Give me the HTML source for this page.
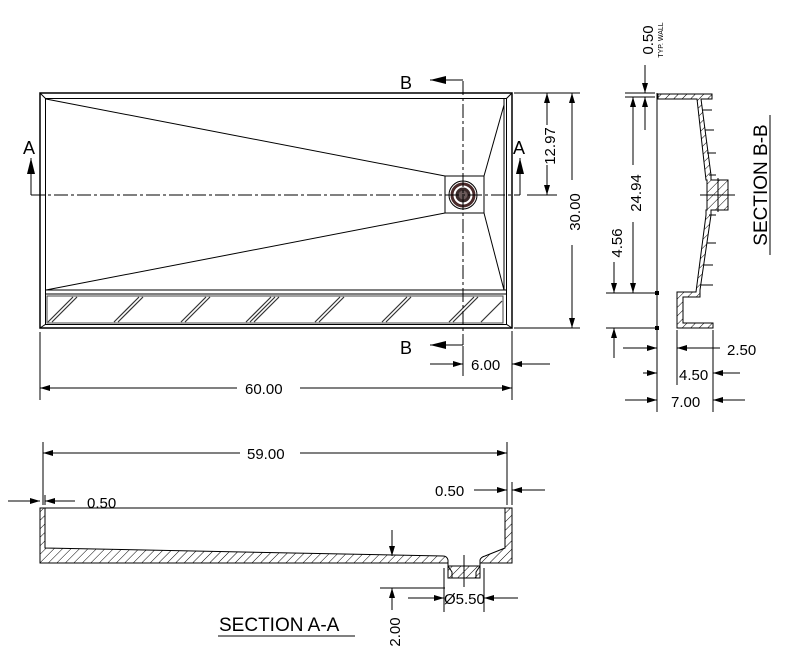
<!DOCTYPE html>
<html><head><meta charset="utf-8"><style>
html,body{margin:0;padding:0;background:#fff}
svg{display:block}
text{font-family:"Liberation Sans",Arial,sans-serif;fill:#000}
</style></head><body>
<svg width="787" height="672" viewBox="0 0 787 672" xmlns="http://www.w3.org/2000/svg">
<defs>
<marker id="ar" viewBox="0 0 10 6" refX="10" refY="3" markerWidth="12" markerHeight="6" markerUnits="userSpaceOnUse" orient="auto"><path d="M0,0L10,3L0,6z" fill="#000"/></marker>
<marker id="arb" viewBox="0 0 16 8" refX="16" refY="4" markerWidth="16" markerHeight="8" markerUnits="userSpaceOnUse" orient="auto"><path d="M0,0L16,4L0,8z" fill="#000"/></marker>
<pattern id="h" width="6" height="6" patternUnits="userSpaceOnUse" patternTransform="rotate(45)"><line x1="0" y1="0" x2="0" y2="6" stroke="#000" stroke-width="1"/></pattern>
</defs>
<g fill="none" stroke="#000" stroke-width="1">
<rect x="40" y="93" width="472" height="235" stroke-width="1.5"/>
<rect x="45.5" y="98.5" width="461" height="226"/>
<line x1="40" y1="93" x2="46" y2="99"/><line x1="512" y1="93" x2="506" y2="99"/>
<line x1="40" y1="328" x2="46" y2="324"/><line x1="512" y1="328" x2="506" y2="324"/>
<line x1="46" y1="99" x2="445" y2="176"/>
<line x1="46" y1="290" x2="445" y2="213"/>
<rect x="445" y="176" width="39" height="37"/>
<line x1="484" y1="176" x2="504" y2="105"/>
<line x1="484" y1="213" x2="504" y2="290"/>
<line x1="504" y1="99" x2="504" y2="290"/>
<circle cx="463" cy="195" r="14"/>
<circle cx="463" cy="195" r="11" stroke="#4a2a2a" stroke-width="3"/>
<circle cx="463" cy="195" r="6" fill="#6a5a5a" stroke="#3a2a2a" stroke-width="3"/>
<line x1="46" y1="290" x2="506" y2="290"/>
<line x1="46" y1="294" x2="506" y2="294"/>
<rect x="47" y="296" width="456" height="27" stroke="#444"/>
<g stroke="#333" stroke-width="1.2">
<line x1="48" y1="322" x2="73" y2="297"/><line x1="52" y1="322" x2="77" y2="297"/>
<line x1="114" y1="322" x2="139" y2="297"/><line x1="118" y1="322" x2="143" y2="297"/>
<line x1="181" y1="322" x2="206" y2="297"/><line x1="185" y1="322" x2="210" y2="297"/>
<line x1="246" y1="322" x2="271" y2="297"/><line x1="250" y1="322" x2="275" y2="297"/><line x1="254" y1="322" x2="279" y2="297"/>
<line x1="315" y1="322" x2="340" y2="297"/><line x1="319" y1="322" x2="344" y2="297"/>
<line x1="382" y1="322" x2="407" y2="297"/><line x1="386" y1="322" x2="411" y2="297"/>
<line x1="449" y1="322" x2="474" y2="297"/><line x1="453" y1="322" x2="478" y2="297"/>
<line x1="481" y1="322" x2="502" y2="301"/>
</g>
<path d="M31,195H520" stroke-dasharray="14 3 3 3"/>
<line x1="31" y1="195" x2="31" y2="158" marker-end="url(#arb)"/>
<line x1="520" y1="195" x2="520" y2="158" marker-end="url(#arb)"/>
<path d="M463,81V345" stroke-dasharray="14 3 3 3"/>
<line x1="463" y1="80" x2="430" y2="80" marker-end="url(#arb)"/>
<line x1="463" y1="345" x2="430" y2="345" marker-end="url(#arb)"/>
<line x1="514" y1="93" x2="580" y2="93"/>
<line x1="527" y1="195" x2="557" y2="195"/>
<line x1="514" y1="328" x2="580" y2="328"/>
<line x1="547" y1="125" x2="547" y2="93" marker-end="url(#ar)"/>
<line x1="547" y1="165" x2="547" y2="195" marker-end="url(#ar)"/>
<line x1="572" y1="180" x2="572" y2="93" marker-end="url(#ar)"/>
<line x1="572" y1="245" x2="572" y2="328" marker-end="url(#ar)"/>
<line x1="463" y1="346" x2="463" y2="376"/>
<line x1="512" y1="331" x2="512" y2="400"/>
<line x1="40" y1="332" x2="40" y2="400"/>
<line x1="430" y1="364" x2="463" y2="364" marker-end="url(#ar)"/>
<line x1="550" y1="364" x2="512" y2="364" marker-end="url(#ar)"/>
<line x1="237" y1="388" x2="40" y2="388" marker-end="url(#ar)"/>
<line x1="300" y1="388" x2="512" y2="388" marker-end="url(#ar)"/>
<line x1="657" y1="93" x2="657" y2="328"/>
<path d="M658,94H712V99H701L711,175V180H728V210H711V215L700,290V297H683V323H713V328H677V292H696L706,215V210H707V180H706L697,99H658Z" fill="url(#h)"/>
<path d="M703,110h9M705,130h9M707,153h9M709,175h7M709,215h7M707,243h9M704,265h9M701,285h12"/>
<line x1="700" y1="195" x2="735" y2="195"/><line x1="718" y1="178" x2="718" y2="212"/>
<rect x="655.5" y="291.5" width="3" height="3" fill="#000"/><rect x="655.5" y="326.5" width="3" height="3" fill="#000"/>
<line x1="625" y1="93" x2="655" y2="93"/><line x1="625" y1="97" x2="655" y2="97"/>
<line x1="645" y1="65" x2="645" y2="93" marker-end="url(#ar)"/>
<line x1="645" y1="130" x2="645" y2="97" marker-end="url(#ar)"/>
<line x1="633" y1="165" x2="633" y2="97" marker-end="url(#ar)"/>
<line x1="633" y1="222" x2="633" y2="293" marker-end="url(#ar)"/>
<line x1="606" y1="293" x2="655" y2="293"/>
<line x1="606" y1="328" x2="655" y2="328"/>
<line x1="614" y1="262" x2="614" y2="293" marker-end="url(#ar)"/>
<line x1="614" y1="358" x2="614" y2="328" marker-end="url(#ar)"/>
<line x1="657" y1="330" x2="657" y2="412"/>
<line x1="677" y1="330" x2="677" y2="385"/>
<line x1="713" y1="330" x2="713" y2="412"/>
<line x1="623" y1="348" x2="657" y2="348" marker-end="url(#ar)"/>
<line x1="720" y1="348" x2="677" y2="348" marker-end="url(#ar)"/>
<line x1="643" y1="373" x2="657" y2="373" marker-end="url(#ar)"/>
<line x1="740" y1="373" x2="713" y2="373" marker-end="url(#ar)"/>
<line x1="625" y1="400" x2="657" y2="400" marker-end="url(#ar)"/>
<line x1="745" y1="400" x2="713" y2="400" marker-end="url(#ar)"/>
<line x1="770" y1="115" x2="770" y2="255"/>
<line x1="40" y1="508" x2="512" y2="508"/>
<path d="M40,508H45V548L443,556Q447,556 448,560V566H480V560Q481,557 485,556L505,548V508H512V563H480V578H448V563H40Z" fill="url(#h)"/>
<path d="M448,566L452,572V578M480,566L476,572V578" />
<line x1="464" y1="555" x2="464" y2="587"/>
<line x1="43" y1="442" x2="43" y2="505"/>
<line x1="507" y1="442" x2="507" y2="505"/>
<line x1="45" y1="495" x2="45" y2="505"/>
<line x1="512" y1="482" x2="512" y2="505"/>
<line x1="240" y1="453" x2="43" y2="453" marker-end="url(#ar)"/>
<line x1="300" y1="453" x2="507" y2="453" marker-end="url(#ar)"/>
<line x1="8" y1="501" x2="40" y2="501" marker-end="url(#ar)"/>
<line x1="75" y1="501" x2="45" y2="501" marker-end="url(#ar)"/>
<line x1="474" y1="490" x2="507" y2="490" marker-end="url(#ar)"/>
<line x1="545" y1="490" x2="512" y2="490" marker-end="url(#ar)"/>
<line x1="392" y1="530" x2="392" y2="556" marker-end="url(#ar)"/>
<line x1="392" y1="610" x2="392" y2="588" marker-end="url(#ar)"/>
<line x1="380" y1="588" x2="445" y2="588"/>
<line x1="444" y1="568" x2="444" y2="612"/>
<line x1="484" y1="568" x2="484" y2="612"/>
<line x1="408" y1="598" x2="444" y2="598" marker-end="url(#ar)"/>
<line x1="518" y1="598" x2="484" y2="598" marker-end="url(#ar)"/>
<line x1="218" y1="636" x2="355" y2="636"/>
</g>
<g font-size="15">
<text x="23" y="154" font-size="18">A</text><text x="513" y="154" font-size="18">A</text>
<text x="400" y="89" font-size="18">B</text><text x="400" y="354" font-size="18">B</text>
<text x="471" y="370">6.00</text>
<text x="245" y="394">60.00</text>
<text x="555" y="146" transform="rotate(-90 555 146)" text-anchor="middle">12.97</text>
<text x="580" y="212" transform="rotate(-90 580 212)" text-anchor="middle">30.00</text>
<text x="653" y="40" transform="rotate(-90 653 40)" text-anchor="middle">0.50</text>
<text x="663" y="40" font-size="7" transform="rotate(-90 663 40)" text-anchor="middle">TYP. WALL</text>
<text x="641" y="193" transform="rotate(-90 641 193)" text-anchor="middle">24.94</text>
<text x="622" y="243" transform="rotate(-90 622 243)" text-anchor="middle">4.56</text>
<text x="727" y="355">2.50</text>
<text x="679" y="380">4.50</text>
<text x="671" y="407">7.00</text>
<text x="767" y="185" font-size="19" transform="rotate(-90 767 185)" text-anchor="middle">SECTION B-B</text>
<text x="247" y="459">59.00</text>
<text x="87" y="508">0.50</text>
<text x="435" y="496">0.50</text>
<text x="444" y="604">Ø5.50</text>
<text x="400" y="632" transform="rotate(-90 400 632)" text-anchor="middle">2.00</text>
<text x="219" y="631" font-size="19">SECTION A-A</text>
</g>
</svg>
</body></html>
